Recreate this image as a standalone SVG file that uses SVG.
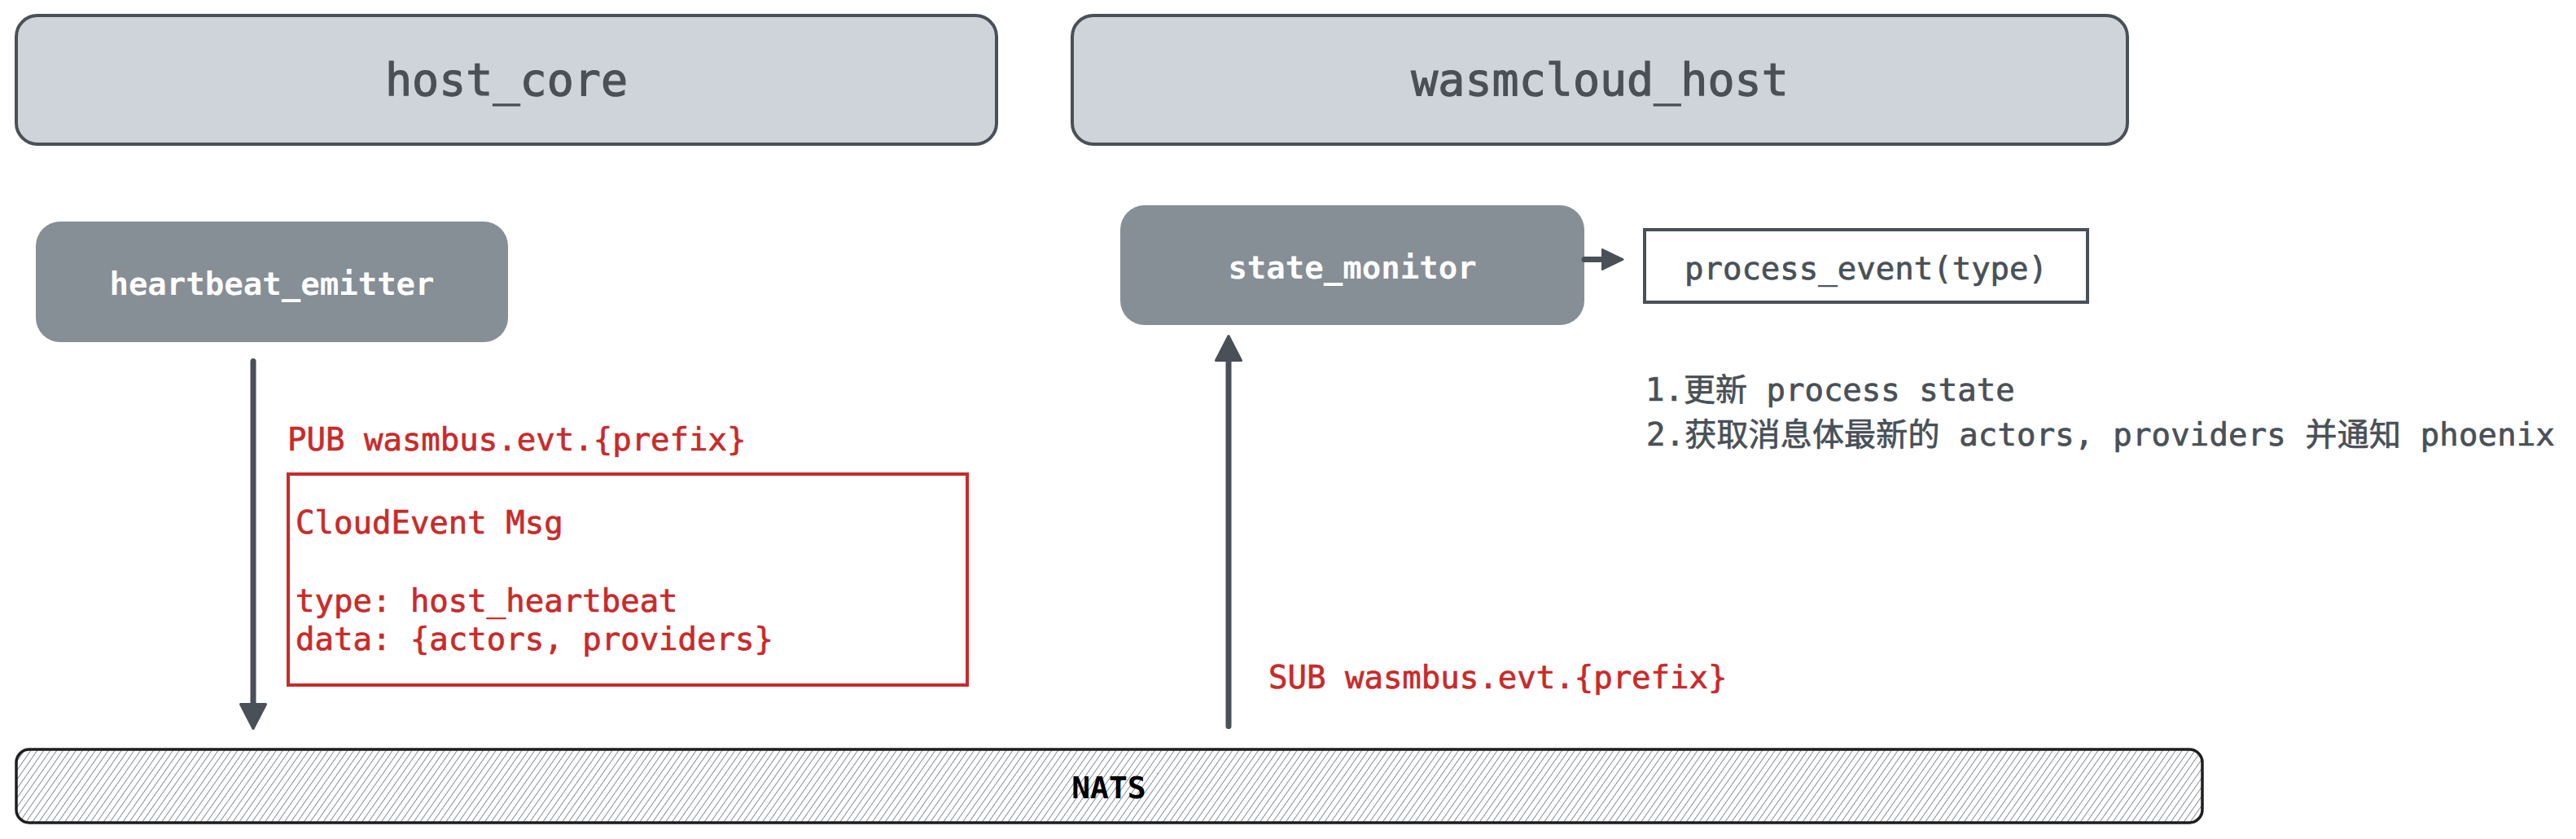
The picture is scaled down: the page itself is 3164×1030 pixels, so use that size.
<svg xmlns="http://www.w3.org/2000/svg" width="3164" height="1030" viewBox="0 0 3164 1030">
<style>
  .mono { font-family: "DejaVu Sans Mono", "Liberation Mono", "Noto Sans CJK SC", monospace; }
  .header rect { fill: #ced4da; stroke: #495057; stroke-width: 4; }
  .header text { fill: #495057; stroke: #495057; stroke-width: 1.2; font-size: 55px; text-anchor: middle; }
  .node rect { fill: #868e96; stroke: none; }
  .node text { fill: #ffffff; font-size: 39px; font-weight: bold; text-anchor: middle; }
  .red { fill: #c92a2a; stroke: #c92a2a; stroke-width: 0.7; font-size: 39px; }
  .dark { fill: #495057; stroke: #495057; stroke-width: 0.7; font-size: 39px; }
  .conn { stroke: #495057; stroke-width: 7; stroke-linecap: round; fill: none; }
</style>
<defs>
  <marker id="arr" viewBox="0 0 36 36" markerUnits="userSpaceOnUse" markerWidth="36" markerHeight="36" refX="1.5" refY="18" orient="auto">
    <path d="M1.5,2.5 L31.5,18 L1.5,33.5 Z" fill="#495057" stroke="#495057" stroke-width="3" stroke-linejoin="round"/>
  </marker>
  <marker id="arrSm" viewBox="0 0 30 30" markerUnits="userSpaceOnUse" markerWidth="30" markerHeight="30" refX="1.5" refY="15" orient="auto">
    <path d="M1.5,3 L26.5,15 L1.5,27 Z" fill="#495057" stroke="#495057" stroke-width="3" stroke-linejoin="round"/>
  </marker>
  <pattern id="hatch" patternUnits="userSpaceOnUse" width="6.5" height="8" patternTransform="rotate(35)">
    <line x1="0" y1="0" x2="0" y2="8" stroke="#7d848c" stroke-width="1.8"/>
  </pattern>
</defs>

<g id="host_core" class="header">
  <rect x="20" y="19" width="1204" height="158" rx="26"/>
  <text class="mono" x="622" y="117">host_core</text>
</g>
<g id="wasmcloud_host" class="header">
  <rect x="1317" y="19" width="1296" height="158" rx="26"/>
  <text class="mono" x="1965" y="117">wasmcloud_host</text>
</g>

<g id="heartbeat_emitter" class="node">
  <rect x="44" y="272" width="580" height="148" rx="30"/>
  <text class="mono" x="334" y="362">heartbeat_emitter</text>
</g>
<g id="state_monitor" class="node">
  <rect x="1376" y="252" width="570" height="147" rx="30"/>
  <text class="mono" x="1661" y="342">state_monitor</text>
</g>

<g id="process_event">
  <rect x="2020" y="282" width="544" height="89" fill="#ffffff" stroke="#495057" stroke-width="4"/>
  <text class="mono dark" x="2292" y="343" text-anchor="middle">process_event(type)</text>
</g>

<g id="notes">
  <text class="mono dark" x="2021" y="492">1.更新 process state</text>
  <text class="mono dark" x="2022" y="547" textLength="1116" lengthAdjust="spacing">2.获取消息体最新的 actors, providers 并通知 phoenix</text>
</g>

<g id="pub_label">
  <text class="mono red" x="353" y="553">PUB wasmbus.evt.{prefix}</text>
</g>

<g id="cloudevent_msg">
  <rect x="354" y="582" width="834" height="259" fill="#ffffff" stroke="#c92a2a" stroke-width="4"/>
  <text class="mono red" x="363" y="655">CloudEvent Msg</text>
  <text class="mono red" x="363" y="751">type: host_heartbeat</text>
  <text class="mono red" x="363" y="798">data: {actors, providers}</text>
</g>

<g id="sub_label">
  <text class="mono red" x="1558" y="845">SUB wasmbus.evt.{prefix}</text>
</g>

<g id="nats">
  <rect x="20" y="920" width="2685" height="90" rx="16" fill="#ffffff"/>
  <rect x="20" y="920" width="2685" height="90" rx="16" fill="url(#hatch)" stroke="#1e1e1e" stroke-width="3.5"/>
  <text class="mono" x="1362" y="980" text-anchor="middle" font-size="38" font-weight="bold" fill="#000000">NATS</text>
</g>

<g id="connectors">
  <line class="conn" x1="311" y1="443.5" x2="311" y2="864.5" marker-end="url(#arr)"/>
  <line class="conn" x1="1509" y1="891.5" x2="1509" y2="442.5" marker-end="url(#arr)"/>
  <line class="conn" x1="1946" y1="318.5" x2="1968" y2="318.5" stroke-linecap="butt" marker-end="url(#arrSm)"/>
</g>
</svg>
